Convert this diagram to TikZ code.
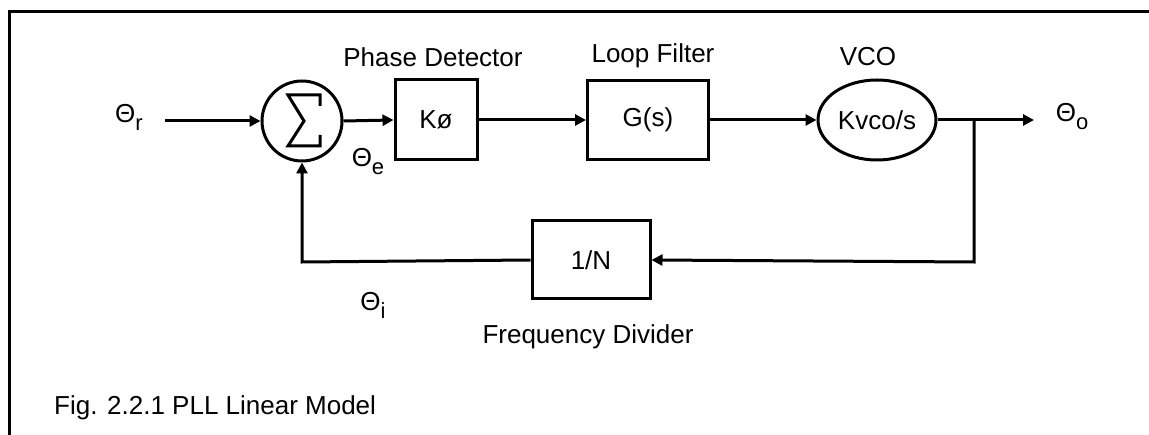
\documentclass[tikz,border=0pt]{standalone}
\usepackage{fontspec}
\setmainfont{Liberation Sans}
\usetikzlibrary{arrows.meta,shapes.geometric}
\newcommand{\lowsub}[1]{\raisebox{-8pt}{\fontsize{22}{22}\selectfont #1}}
\tikzset{
  every node/.style={font=\fontsize{26}{29}\selectfont, inner sep=0pt},
  wire/.style={line width=3pt},
  arr/.style={wire, -{Triangle[length=11pt,width=11pt]}},
  blockbox/.style={draw, line width=3pt, rectangle},
}
\begin{document}
\begin{tikzpicture}[x=1pt,y=-1pt]
\useasboundingbox (0,0) rectangle (1149,435);
% frame (top and left edges only)
\draw[line width=3pt] (9,450) -- (9,12) -- (1160,12);

% blocks
\node[draw, circle, line width=3pt, minimum size=80pt] (sum) at (302,121) {};
\node[blockbox, minimum width=82pt, minimum height=80pt] (kp) at (436,120) {Kø};
\node[blockbox, minimum width=121pt, minimum height=79pt] (gs) at (648,120) {G(s)};
\node[draw, ellipse, line width=3pt, minimum width=118pt, minimum height=80pt] (vco) at (877,120) {Kvco/s};
\node[blockbox, minimum width=118pt, minimum height=78pt] (div) at (591,260) {1/N};

% sigma drawn inside the summing junction
\draw[line width=3pt, line join=miter] ([shift={(18,-15)}]sum.center) -- ([shift={(18,-26)}]sum.center)
  -- ([shift={(-14,-26)}]sum.center) -- ([shift={(2,0)}]sum.center)
  -- ([shift={(-14,25)}]sum.center) -- ([shift={(18,25)}]sum.center)
  -- ([shift={(18,14)}]sum.center);

% coordinates
\coordinate (in) at (165,121);
\coordinate (out) at (1034,120);
\coordinate (br) at (974,120);
\coordinate (brd) at (974,262);
\coordinate (fbl) at (302,262);

% connectors
\draw[arr] (in) -- (sum.west);
\draw[arr] (sum.east) -- (kp.west);
\draw[arr] (kp.east) -- (gs.west);
\draw[arr] (gs.east) -- (vco.west);
\draw[arr] (vco.east) -- (out);
\draw[arr] (br) -- (brd) -- (div.east);
\draw[arr] (div.west) -- (fbl) -- (sum.south);

% labels
\node (lr) at (129,117) {Θ\lowsub{r}};
\node (le) at (368,162) {Θ\lowsub{e}};
\node (lo) at (1072,117) {Θ\lowsub{o}};
\node (li) at (373,305) {Θ\lowsub{i}};
\node (tpd) at (433,57) {Phase Detector};
\node (tlf) at (653,56) {Loop Filter};
\node (tvco) at (868,57) {VCO};
\node (tfd) at (588,337) {Frequency Divider};
\node[anchor=west] (cap) at (54,408) {Fig. 2.2.1 PLL Linear Model};
\end{tikzpicture}
\end{document}
